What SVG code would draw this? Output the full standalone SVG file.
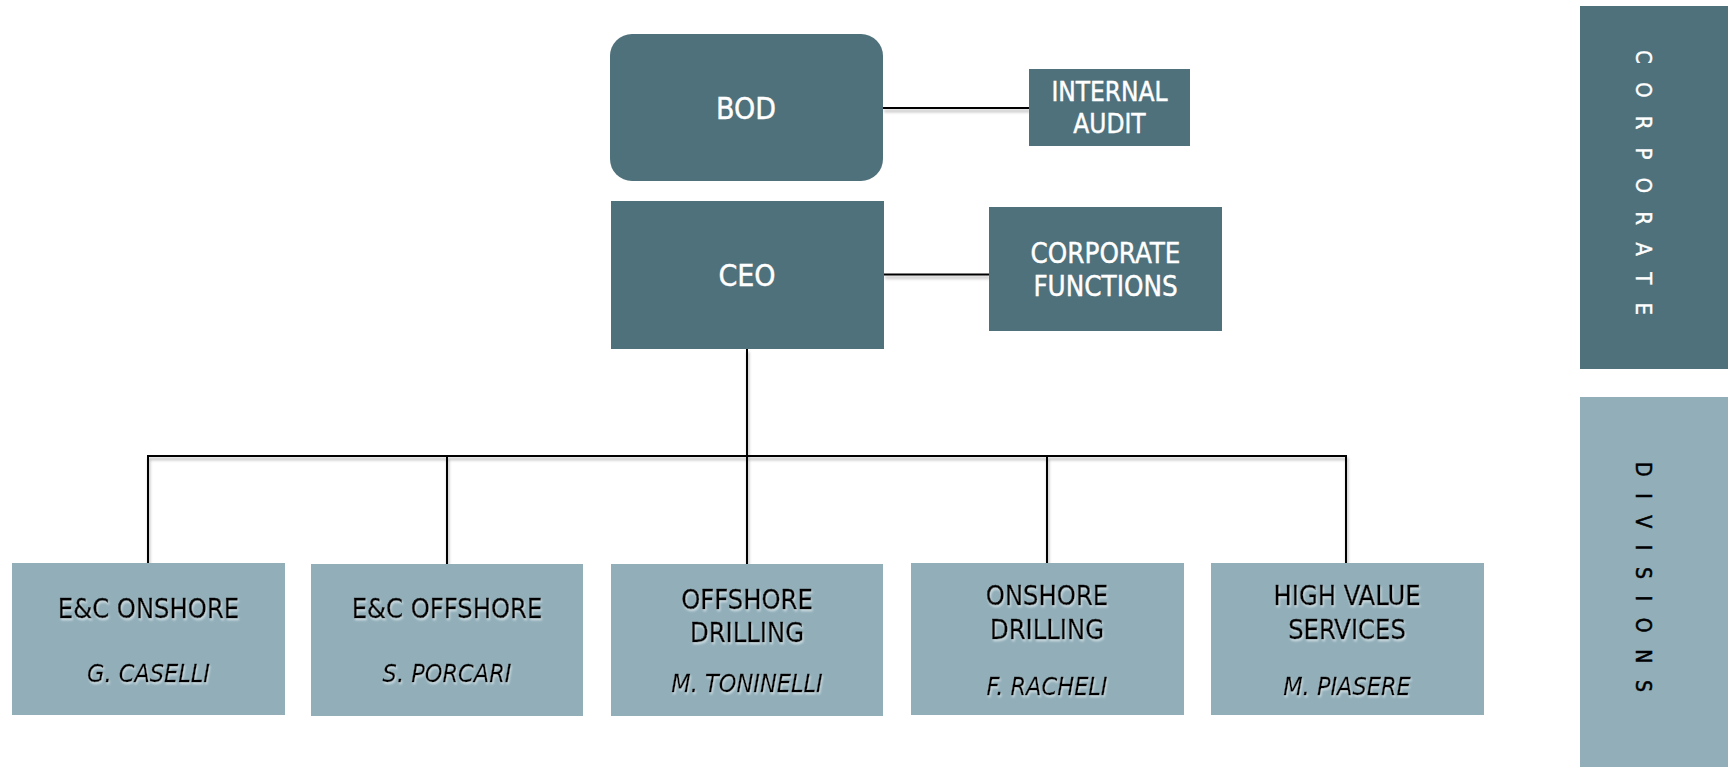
<svg xmlns="http://www.w3.org/2000/svg" width="1731" height="767" viewBox="0 0 1731 767">
<defs>
<style>
.dark{fill:#4f717c}
.light{fill:#91aeb9}
.t{font-family:"DejaVu Sans Condensed","Liberation Sans Narrow","DejaVu Sans","Liberation Sans",sans-serif;font-stretch:condensed;text-anchor:middle}
.v{font-family:"DejaVu Sans Condensed","DejaVu Sans","Liberation Sans",sans-serif;font-stretch:condensed}
.w{fill:#ffffff;stroke:#ffffff;stroke-width:0.4}
.k{fill:#000000;stroke:#000000;stroke-width:0.5}
.it{font-style:italic;stroke-width:0.3}
.ln{stroke:#000;stroke-width:2;fill:none}
</style>
<filter id="sh" x="-10%" y="-10%" width="120%" height="130%">
<feDropShadow dx="1" dy="3" stdDeviation="1.5" flood-color="#000" flood-opacity="0.3"/>
</filter>
<filter id="glow" x="-10%" y="-20%" width="120%" height="140%">
<feDropShadow dx="1" dy="2" stdDeviation="1" flood-color="#dfe9ec" flood-opacity="0.8"/>
</filter>
</defs>
<rect width="1731" height="767" fill="#ffffff"/>

<g id="connectors" filter="url(#sh)">
<line class="ln" x1="883" y1="108" x2="1029" y2="108"/>
<line class="ln" x1="884" y1="274.5" x2="989" y2="274.5"/>
<line class="ln" x1="747" y1="349" x2="747" y2="456" stroke-width="3"/>
<polyline class="ln" points="148,563 148,456 1346,456 1346,563"/>
<line class="ln" x1="447" y1="456" x2="447" y2="564"/>
<line class="ln" x1="747" y1="456" x2="747" y2="564"/>
<line class="ln" x1="1047" y1="456" x2="1047" y2="563"/>
</g>

<g id="bod">
<rect class="dark" x="610" y="34" width="273" height="147" rx="22"/>
<text class="t w" x="746" y="119" font-size="30">BOD</text>
</g>
<g id="internal-audit">
<rect class="dark" x="1029" y="69" width="161" height="77"/>
<text class="t w" x="1109.5" y="101" font-size="26">INTERNAL</text>
<text class="t w" x="1109.5" y="132.5" font-size="26">AUDIT</text>
</g>
<g id="ceo">
<rect class="dark" x="611" y="201" width="273" height="148"/>
<text class="t w" x="747" y="285.5" font-size="30">CEO</text>
</g>
<g id="corporate-functions">
<rect class="dark" x="989" y="207" width="233" height="124"/>
<text class="t w" x="1105.5" y="262.5" font-size="27.5">CORPORATE</text>
<text class="t w" x="1105.5" y="295.5" font-size="27.5">FUNCTIONS</text>
</g>

<g id="ec-onshore">
<rect class="light" x="12" y="563" width="273" height="152"/>
<text class="t k" x="148.5" y="618" font-size="27" filter="url(#glow)">E&amp;C ONSHORE</text>
<text class="t k it" x="148.5" y="682" font-size="25" filter="url(#glow)">G.  CASELLI</text>
</g>
<g id="ec-offshore">
<rect class="light" x="311" y="564" width="272" height="152"/>
<text class="t k" x="447" y="618" font-size="27" filter="url(#glow)">E&amp;C OFFSHORE</text>
<text class="t k it" x="447" y="682" font-size="25" filter="url(#glow)">S.  PORCARI</text>
</g>
<g id="offshore-drilling">
<rect class="light" x="611" y="564" width="272" height="152"/>
<text class="t k" x="747" y="609" font-size="27" filter="url(#glow)">OFFSHORE</text>
<text class="t k" x="747" y="642" font-size="27" filter="url(#glow)">DRILLING</text>
<text class="t k it" x="747" y="692" font-size="25" filter="url(#glow)">M.  TONINELLI</text>
</g>
<g id="onshore-drilling">
<rect class="light" x="911" y="563" width="273" height="152"/>
<text class="t k" x="1047" y="605" font-size="27" filter="url(#glow)">ONSHORE</text>
<text class="t k" x="1047" y="639" font-size="27" filter="url(#glow)">DRILLING</text>
<text class="t k it" x="1047" y="695" font-size="25" filter="url(#glow)">F.  RACHELI</text>
</g>
<g id="high-value-services">
<rect class="light" x="1211" y="563" width="273" height="152"/>
<text class="t k" x="1347" y="605" font-size="27" filter="url(#glow)">HIGH VALUE</text>
<text class="t k" x="1347" y="639" font-size="27" filter="url(#glow)">SERVICES</text>
<text class="t k it" x="1347" y="695" font-size="25" filter="url(#glow)">M.  PIASERE</text>
</g>

<g id="corporate-bar">
<rect class="dark" x="1580" y="6" width="148" height="363"/>
<text class="v w" font-size="22" transform="translate(1636,50) rotate(90)" textLength="265" lengthAdjust="spacing">CORPORATE</text>
</g>
<g id="divisions-bar">
<rect class="light" x="1580" y="397" width="148" height="370"/>
<text class="v k" font-size="21" transform="translate(1636,462) rotate(90)" textLength="230" lengthAdjust="spacing">DIVISIONS</text>
</g>
</svg>
